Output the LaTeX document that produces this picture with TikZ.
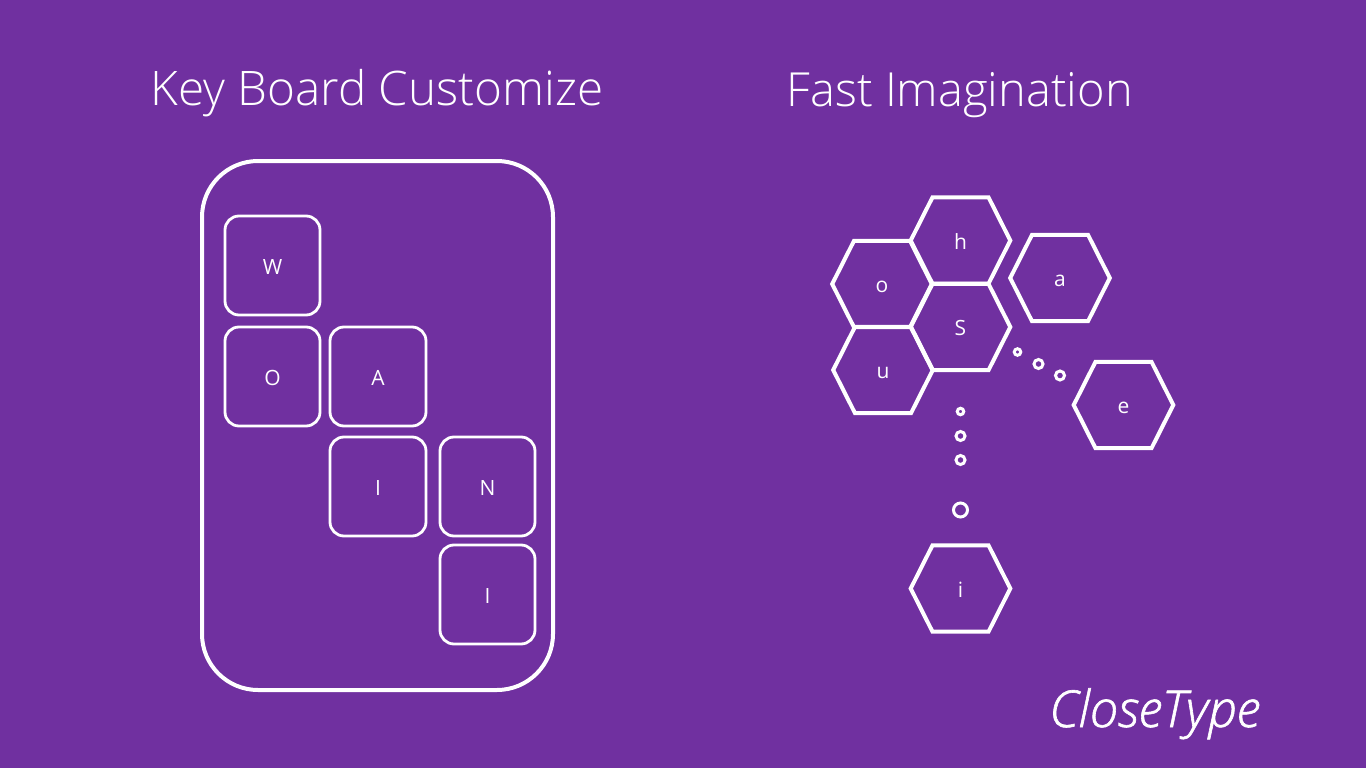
\documentclass[tikz,border=0pt]{standalone}
\usepackage{fontspec}
\setmainfont{Open Sans}
\newfontfamily\thinfont{Open Sans Light}
\newfontfamily\logofont[FakeBold=1.2]{Open Sans Light}
\definecolor{bgpurple}{HTML}{7030A0}
\tikzset{
  keycap/.style={draw=white,line width=2.8pt,rounded corners=14pt,inner sep=0pt,text=white,text height=17pt,text depth=0pt,font=\fontsize{21}{24}\selectfont},
  hexcell/.style={inner sep=0pt,outer sep=0pt,text=white,text height=17pt,text depth=0pt,font=\fontsize{21}{24}\selectfont},
  hexline/.style={draw=white,line width=4pt,line join=miter},
  bubble/.style={draw=white,line width=3pt,circle,inner sep=0pt},
  heading/.style={anchor=base west,inner sep=0pt,text=white,font=\thinfont\fontsize{47.6}{50}\selectfont}
}
\newcommand{\hexoutline}[1]{\draw[hexline,shift={(#1.center)}] (-49.8,0) -- (-28,-43.2) -- (28,-43.2) -- (49.8,0) -- (28,43.2) -- (-28,43.2) -- cycle;}
\begin{document}
\begin{tikzpicture}[x=1pt,y=-1pt]
\useasboundingbox (0,0) rectangle (1366,768);
\fill[bgpurple] (0,0) rectangle (1366,768);
\node[heading] (t1) at (150.5,105) {Key Board Customize};
\node[heading,font=\thinfont\fontsize{47}{50}\selectfont] (t2) at (786.5,106.3) {Fast Imagination};
\node[draw=white,line width=4pt,rounded corners=56pt,minimum width=351pt,minimum height=529pt,inner sep=0pt] (board) at (377.5,425.5) {};
\node[keycap,minimum width=95pt,minimum height=99pt] (kw) at (272.5,265.5) {W};
\node[keycap,minimum width=95pt,minimum height=99pt] (ko) at (272.5,376.5) {O};
\node[keycap,minimum width=96pt,minimum height=99pt] (ka) at (378,376.5) {A};
\node[keycap,minimum width=96pt,minimum height=99pt] (ki) at (378,486.5) {I};
\node[keycap,minimum width=95pt,minimum height=99pt] (kn) at (487.5,486.5) {N};
\node[keycap,minimum width=95pt,minimum height=99pt] (kj) at (487.5,594.5) {I};
\node[hexcell] (hh) at (960.5,240.5) {h};
\node[hexcell] (ho) at (882,284) {o};
\node[hexcell] (hs) at (960.5,327) {S};
\node[hexcell] (hu) at (883,370) {u};
\node[hexcell] (ha) at (1060,278) {a};
\node[hexcell] (he) at (1123.5,405) {e};
\node[hexcell] (hi) at (960.5,588.5) {i};
\hexoutline{hh}\hexoutline{ho}\hexoutline{hs}\hexoutline{hu}\hexoutline{ha}\hexoutline{he}\hexoutline{hi}
\node[bubble,minimum size=6.5pt] (d1) at (1017.5,352) {};
\node[bubble,minimum size=9pt] (d2) at (1038.5,364) {};
\node[bubble,minimum size=9pt] (d3) at (1060,375.5) {};
\node[bubble,minimum size=6.5pt] (d4) at (960.5,411.5) {};
\node[bubble,minimum size=9pt] (d5) at (960.5,436) {};
\node[bubble,minimum size=9pt] (d6) at (960.5,460) {};
\node[bubble,minimum size=14pt] (d7) at (960.5,510) {};
\node[anchor=base west,inner sep=0pt,text=white,font=\logofont\itshape\fontsize{51}{54}\selectfont] (logo) at (1049,727) {CloseType};
\end{tikzpicture}
\end{document}
